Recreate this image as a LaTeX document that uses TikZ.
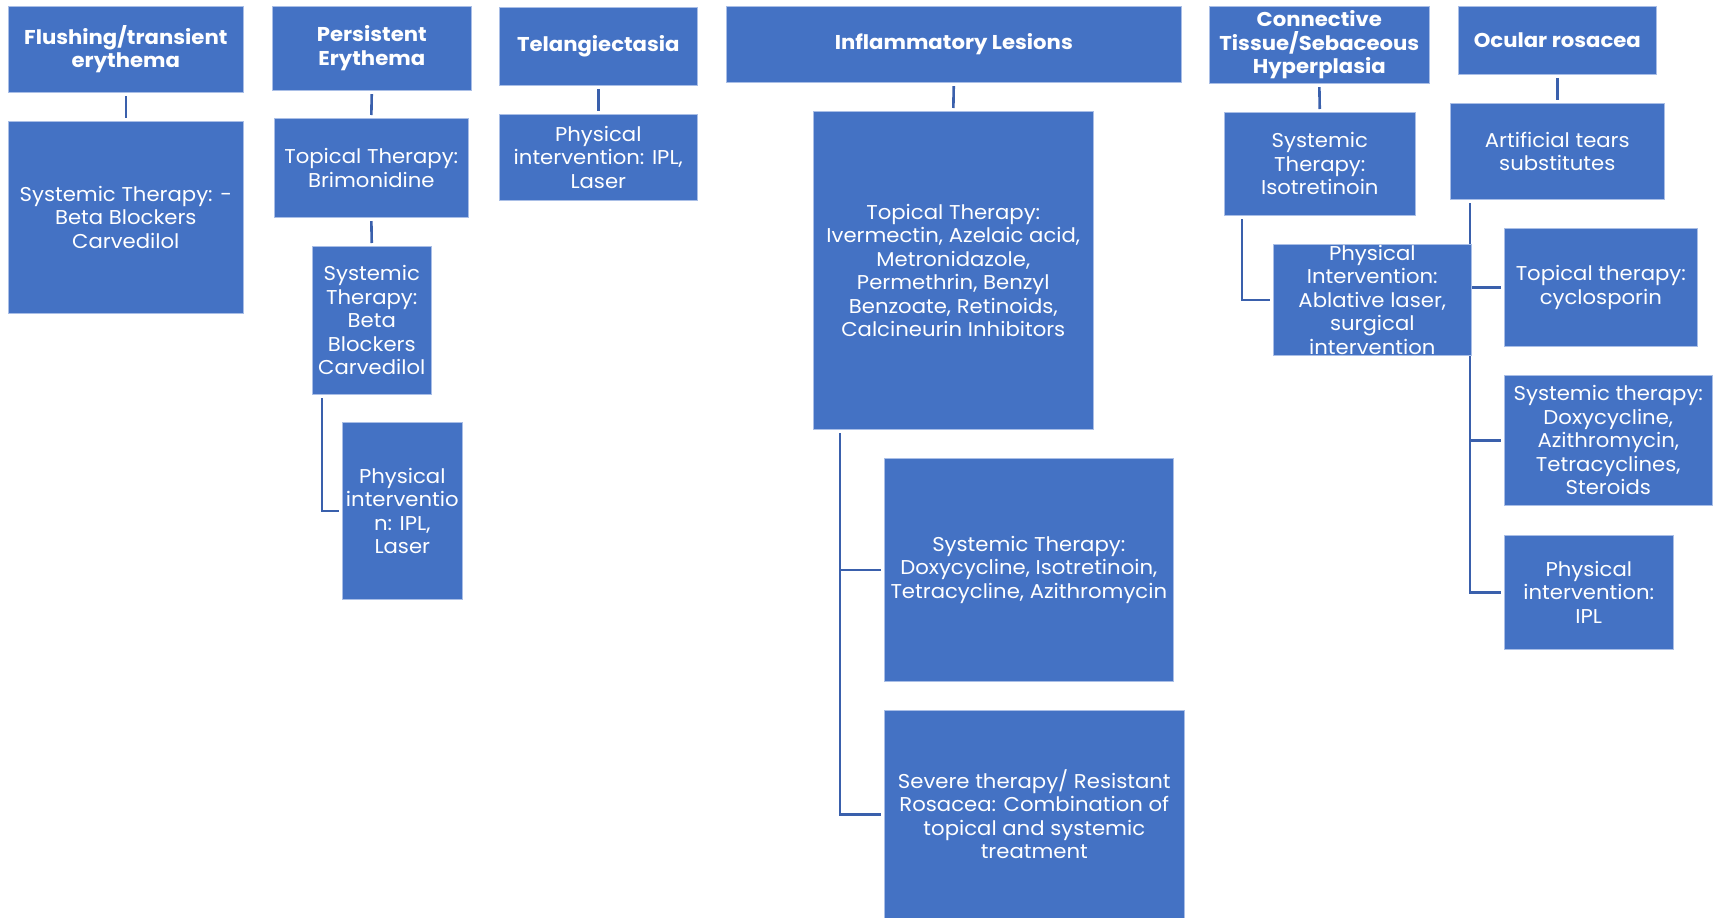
\documentclass[tikz,border=0pt]{standalone}
\usepackage{fontspec}
\setmainfont{Poppins}[FakeStretch=1.06]
\usetikzlibrary{backgrounds}
\definecolor{boxblue}{HTML}{4472C4}
\definecolor{linkblue}{HTML}{3A60AC}
\definecolor{edgecol}{HTML}{A9BEE6}
\tikzset{
 box/.style={rectangle, fill=boxblue, draw=edgecol, line width=0.6pt, inner sep=0pt, anchor=north west},
 lbl/.style={text=white, align=center, font=\fontsize{20}{23.5}\selectfont, inner sep=0pt},
 hlbl/.style={lbl, font=\fontsize{20}{23.5}\selectfont\bfseries},
 conn/.style={draw=linkblue, line width=2.6pt, shorten <=3.5pt, shorten >=3pt},
}
\newcommand\placebox[7]{\node[box, minimum width={(#4-#2)*1pt}, minimum height={(#5-#3)*1pt}, label={[#7]center:{#6}}] (#1) at (#2,#3) {};}
\begin{document}
\begin{tikzpicture}[x=1pt,y=-1pt]
\useasboundingbox (0,0) rectangle (1713,918);
% column 1
\placebox{h1}{8}{6}{243}{92}{Flushing/transient\\erythema}{hlbl}
\placebox{c1}{8}{121}{243}{313}{Systemic Therapy: -\\Beta Blockers\\Carvedilol}{lbl}
% column 2
\placebox{h2}{272}{6}{471}{90}{Persistent\\Erythema}{hlbl}
\placebox{t2}{274}{118}{468}{217}{Topical Therapy:\\Brimonidine}{lbl}
\placebox{s2}{312}{246}{431}{394}{Systemic\\Therapy:\\Beta\\Blockers\\Carvedilol}{lbl}
\placebox{p2}{342}{422}{462}{599}{Physical\\interventio\\n: IPL,\\Laser}{lbl}
% column 3
\placebox{h3}{499}{7}{697}{85}{Telangiectasia}{hlbl}
\placebox{p3}{499}{114}{697}{200}{Physical\\intervention: IPL,\\Laser}{lbl}
% column 4
\placebox{h4}{726}{6}{1181}{82}{Inflammatory Lesions}{hlbl}
\placebox{t4}{813}{111}{1093}{429}{Topical Therapy:\\Ivermectin, Azelaic acid,\\Metronidazole,\\Permethrin, Benzyl\\Benzoate, Retinoids,\\Calcineurin Inhibitors}{lbl}
\placebox{s4}{884}{458}{1173}{681}{Systemic Therapy:\\Doxycycline, Isotretinoin,\\Tetracycline, Azithromycin}{lbl}
\placebox{v4}{884}{710}{1184}{918}{Severe therapy/ Resistant\\Rosacea: Combination of\\topical and systemic\\treatment}{lbl}
% column 5
\placebox{h5}{1209}{6}{1429}{83}{Connective\\Tissue/Sebaceous\\Hyperplasia}{hlbl}
\placebox{s5}{1224}{112}{1415}{215}{Systemic\\Therapy:\\Isotretinoin}{lbl}
% column 6
\placebox{h6}{1458}{6}{1656}{74}{Ocular rosacea}{hlbl}
\placebox{a6}{1450}{103}{1664}{199}{Artificial tears\\substitutes}{lbl}
\placebox{t6}{1504}{228}{1697}{346}{Topical therapy:\\cyclosporin}{lbl}
\placebox{s6}{1504}{375}{1712}{505}{Systemic therapy:\\Doxycycline,\\Azithromycin,\\Tetracyclines,\\Steroids}{lbl}
\placebox{p6}{1504}{535}{1673}{649}{Physical\\intervention:\\IPL}{lbl}
% connectors (behind)
\begin{scope}[on background layer]
\draw[conn] (h1.south) -- (c1.north);
\draw[conn] (h2.south) -- (t2.north);
\draw[conn] (t2.south) -- (s2.north);
\draw[conn] ([xshift=10pt]s2.south west) |- (p2.west);
\draw[conn] (h3.south) -- (p3.north);
\draw[conn] (h4.south) -- (t4.north);
\draw[conn] ([xshift=27pt]t4.south west) |- (s4.west);
\draw[conn] ([xshift=27pt]t4.south west) |- (v4.west);
\draw[conn] (h5.south) -- (s5.north);
\draw[conn] (h6.south) -- (a6.north);
\draw[conn] ([xshift=20pt]a6.south west) |- (t6.west);
\draw[conn] ([xshift=20pt]a6.south west) |- (s6.west);
\draw[conn] ([xshift=20pt]a6.south west) |- (p6.west);
\end{scope}
% box drawn over the ocular connector
\placebox{p5}{1273}{244}{1471}{355}{Physical\\Intervention:\\Ablative laser,\\surgical\\intervention}{lbl}
\begin{scope}[on background layer]
\draw[conn] ([xshift=18pt]s5.south west) |- (p5.west);
\end{scope}
\end{tikzpicture}
\end{document}
